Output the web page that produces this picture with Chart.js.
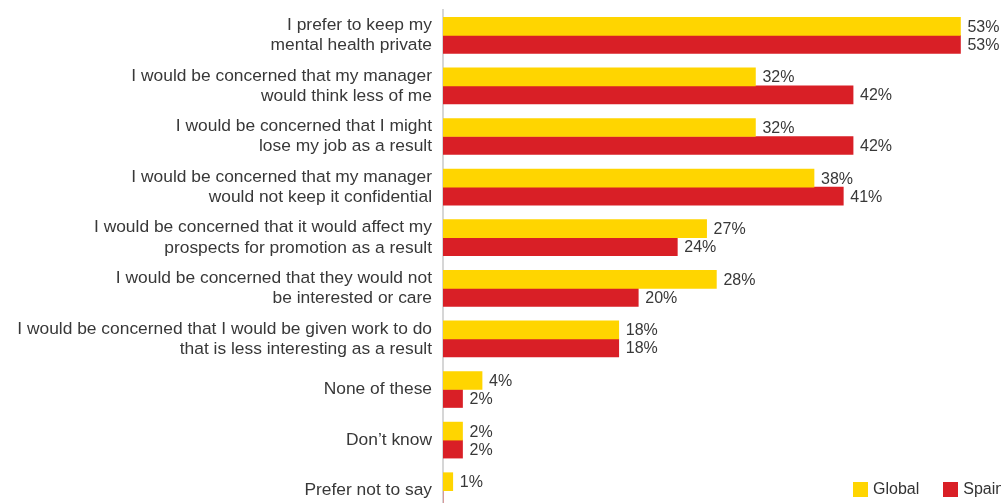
<!DOCTYPE html>
<html>
<head>
<meta charset="utf-8">
<script src="https://cdn.jsdelivr.net/npm/chart.js@4/dist/chart.umd.min.js"></script>
<style>
    html, body { margin: 0; padding: 0; background: #fff; overflow: hidden; }
    #wrap { position: relative; width: 1001px; height: 516px; }
    #chart { display: block; }
    #legend {
        position: absolute; left: 853px; top: 480px;
        font: 16px "Liberation Sans", Arial, sans-serif; color: #333;
        display: flex; align-items: center; white-space: nowrap;
    }
    #legend .item { display: flex; align-items: center; margin-right: 24px; }
    #legend .item:last-child { margin-right: 0; }
    #legend .box { width: 15px; height: 15px; margin-right: 5px; }
</style>
</head>
<body>
<div id="wrap">
    <canvas id="chart" width="1001" height="516"></canvas>
    <div id="legend"></div>
</div>
<script>
// Reasons for not disclosing mental health at work - Global vs Spain

const categories = [
    ["I prefer to keep my", "mental health private"],
    ["I would be concerned that my manager", "would think less of me"],
    ["I would be concerned that I might", "lose my job as a result"],
    ["I would be concerned that my manager", "would not keep it confidential"],
    ["I would be concerned that it would affect my", "prospects for promotion as a result"],
    ["I would be concerned that they would not", "be interested or care"],
    ["I would be concerned that I would be given work to do", "that is less interesting as a result"],
    "None of these",
    "Don\u2019t know",
    "Prefer not to say",
];
const globalValues = [53, 32, 32, 38, 27, 28, 18, 4, 2, 1];
const spainValues = [53, 42, 42, 41, 24, 20, 18, 2, 2, 0];
const seriesNames = ["Global", "Spain"];
const seriesColors = ["#FFD500", "#D91F26"];

const FONT = '"Liberation Sans", Arial, sans-serif';
const TEXT = "#383838";

// Percent labels at the end of each bar
const barLabels = {
    id: "barLabels",
    afterDatasetsDraw(chart) {
        const ctx = chart.ctx;
        ctx.save();
        ctx.font = "16px " + FONT;
        ctx.fillStyle = TEXT;
        ctx.textAlign = "left";
        ctx.textBaseline = "middle";
        chart.data.datasets.forEach((ds, i) => {
            const meta = chart.getDatasetMeta(i);
            meta.data.forEach((bar, j) => {
                const v = ds.data[j];
                if (!v) return;
                ctx.fillText(v + "%", bar.x + 7, bar.y + 1);
            });
        });
        ctx.restore();
    },
};

const chart = new Chart(document.getElementById("chart"), {
    type: "bar",
    data: {
        labels: categories,
        datasets: [
            {
                label: seriesNames[0],
                data: globalValues,
                backgroundColor: seriesColors[0],
                barThickness: 18,
            },
            {
                label: seriesNames[1],
                data: spainValues,
                backgroundColor: seriesColors[1],
                barThickness: 18,
            },
        ],
    },
    options: {
        indexAxis: "y",
        responsive: false,
        animation: false,
        layout: { padding: { top: 10, right: 21, bottom: 0, left: 0 } },
        plugins: {
            legend: { display: false },
            tooltip: { enabled: false },
        },
        scales: {
            x: {
                display: false,
                min: 0,
                max: 55,
            },
            y: {
                grid: { display: false, drawTicks: false },
                border: { display: true, color: "#d6d6d6", width: 2 },
                ticks: {
                    color: TEXT,
                    padding: 11,
                    font: { family: FONT, size: 17.4, lineHeight: 1.16 },
                },
                afterFit: (scale) => {
                    // fixed label column, no extra padding above/below the bars
                    scale.width = 443;
                    scale.paddingTop = 0;
                    scale.paddingBottom = 0;
                },
            },
        },
    },
    plugins: [barLabels],
});

// HTML legend built from the datasets
const legendEl = document.getElementById("legend");
chart.data.datasets.forEach((ds) => {
    const item = document.createElement("div");
    item.className = "item";
    item.innerHTML = '<span class="box" style="background:' + ds.backgroundColor + '"></span>' + ds.label;
    legendEl.appendChild(item);
});
</script>
</body>
</html>
